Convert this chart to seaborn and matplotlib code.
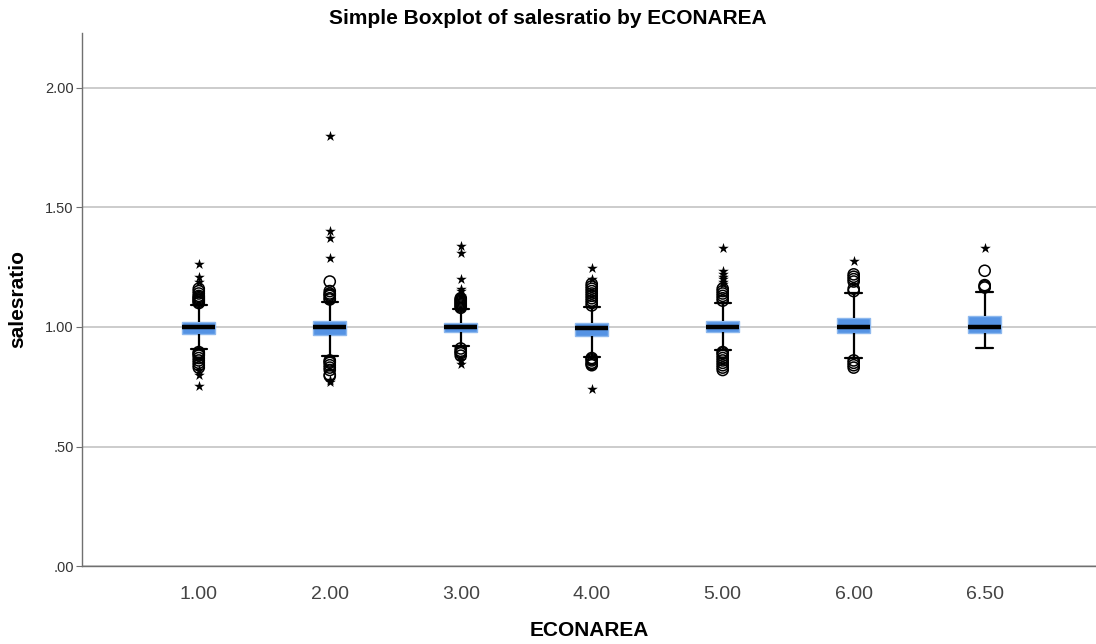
import numpy as np
import pandas as pd
import matplotlib
matplotlib.use("Agg")
import matplotlib.pyplot as plt
import seaborn as sns

# ECONAREA groups
areas = ["1.00", "2.00", "3.00", "4.00", "5.00", "6.00", "6.50"]

# five-number summaries per group: lower whisker, Q1, median, Q3, upper whisker
whisker_low = [0.908, 0.879, 0.920, 0.876, 0.904, 0.869, 0.911]
q1 = [0.971, 0.967, 0.980, 0.962, 0.978, 0.974, 0.976]
median = [1.000, 0.999, 1.000, 0.994, 1.001, 1.001, 0.999]
q3 = [1.020, 1.025, 1.015, 1.018, 1.026, 1.039, 1.046]
whisker_high = [1.092, 1.106, 1.075, 1.082, 1.102, 1.141, 1.145]

# outliers (circles) per group
outliers = {
    "1.00": [1.10, 1.105, 1.11, 1.115, 1.12, 1.125, 1.13, 1.14, 1.15, 1.16,
             0.895, 0.89, 0.885, 0.88, 0.87, 0.86, 0.85, 0.84, 0.83],
    "2.00": [1.115, 1.12, 1.13, 1.135, 1.14, 1.15, 1.19,
             0.86, 0.855, 0.85, 0.84, 0.83, 0.82, 0.80, 0.795],
    "3.00": [1.08, 1.085, 1.09, 1.095, 1.10, 1.105, 1.11, 1.115, 1.12,
             0.91, 0.90, 0.895, 0.89, 0.88],
    "4.00": [1.09, 1.10, 1.11, 1.12, 1.13, 1.14, 1.15, 1.16, 1.17, 1.18,
             0.87, 0.865, 0.86, 0.85, 0.845, 0.84],
    "5.00": [1.11, 1.12, 1.13, 1.14, 1.15, 1.16,
             0.895, 0.89, 0.88, 0.87, 0.86, 0.85, 0.84, 0.83, 0.82],
    "6.00": [1.15, 1.16, 1.19, 1.20, 1.21, 1.22,
             0.86, 0.85, 0.84, 0.83],
    "6.50": [1.165, 1.17, 1.175, 1.235],
}

# extreme values (stars) per group
extremes = {
    "1.00": [1.19, 1.21, 1.265, 0.82, 0.80, 0.755],
    "2.00": [1.29, 1.37, 1.40, 1.80, 0.78, 0.77],
    "3.00": [1.13, 1.15, 1.16, 1.20, 1.31, 1.34, 0.86, 0.845],
    "4.00": [1.20, 1.245, 0.74],
    "5.00": [1.18, 1.19, 1.20, 1.21, 1.22, 1.235, 1.33],
    "6.00": [1.275],
    "6.50": [1.33],
}

y_ticks = [0.0, 0.5, 1.0, 1.5, 2.0]
y_tick_labels = [".00", ".50", "1.00", "1.50", "2.00"]

summary = pd.DataFrame({
    "ECONAREA": np.repeat(areas, 5),
    "salesratio": np.ravel(np.column_stack([whisker_low, q1, median, q3, whisker_high])),
})
circ = pd.DataFrame([(a, v) for a in areas for v in outliers[a]],
                    columns=["ECONAREA", "salesratio"])
star = pd.DataFrame([(a, v) for a in areas for v in extremes[a]],
                    columns=["ECONAREA", "salesratio"])

sns.set_theme(style="white")
plt.rcParams["font.family"] = ["Liberation Sans", "DejaVu Sans"]

fig = plt.figure(figsize=(10.96, 6.44), dpi=100)
ax = fig.add_axes([0.075, 0.121, 0.925, 0.828])

box_color = "#5593E4"
sns.boxplot(data=summary, x="ECONAREA", y="salesratio", order=areas,
            whis=(0, 100), showfliers=False, width=0.25, ax=ax,
            color=box_color, saturation=1,
            boxprops=dict(facecolor=box_color, edgecolor="#8DB8EE", linewidth=1),
            medianprops=dict(color="black", linewidth=3.2),
            whiskerprops=dict(color="black", linewidth=1.6),
            capprops=dict(color="black", linewidth=1.6))

sns.stripplot(data=circ, x="ECONAREA", y="salesratio", order=areas,
              jitter=False, marker="o", size=8, color="black", ax=ax, zorder=4)
for coll in ax.collections[-len(areas):]:
    coll.set_facecolor("none")
    coll.set_edgecolor("black")
    coll.set_linewidth(1.1)

sns.stripplot(data=star, x="ECONAREA", y="salesratio", order=areas,
              jitter=False, marker="*", size=8, color="black",
              linewidth=0, ax=ax, zorder=5)

ax.set_ylim(0, 2.23)
ax.set_xlim(-0.89, 6.85)
ax.set_yticks(y_ticks)
ax.set_yticklabels(y_tick_labels)
ax.yaxis.grid(True, color="#C8C8C8", linewidth=1.3)
ax.set_axisbelow(True)

for side in ["top", "right"]:
    ax.spines[side].set_visible(False)
for side in ["left", "bottom"]:
    ax.spines[side].set_color("#707070")
    ax.spines[side].set_linewidth(1.0)

ax.tick_params(axis="y", left=True, length=4, width=0.8, color="#707070",
               labelsize=10.5, labelcolor="#333333", pad=2)
ax.tick_params(axis="x", bottom=False, labelsize=14, labelcolor="#444444", pad=8)

ax.set_xlabel("ECONAREA", fontsize=15, fontweight="bold", color="black")
ax.xaxis.set_label_coords(0.5, -0.12, transform=ax.transAxes)
ax.xaxis.label.set_va("center")
ax.set_ylabel("salesratio", fontsize=15, fontweight="bold", color="black")
ax.yaxis.set_label_coords(-0.054, 0.5, transform=ax.transAxes)
fig.suptitle("Simple Boxplot of salesratio by ECONAREA", fontsize=15,
             fontweight="bold", color="black", x=0.5, y=1 - 18 / 644, va="center")

fig.savefig("out.png", dpi=100)
